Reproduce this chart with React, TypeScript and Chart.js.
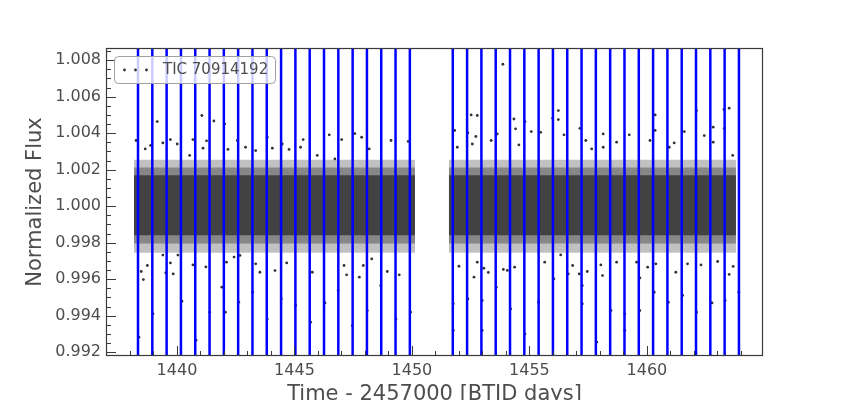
import React, { useEffect, useRef } from "react";
import { Chart, registerables } from "chart.js";

Chart.register(...registerables);

const TARGET_LABEL = "TIC 70914192";
const X_TITLE = "Time - 2457000 [BTJD days]";
const Y_TITLE = "Normalized Flux";

// Transit epochs marked by the vertical lines (BTJD)
const transitTimes = [
  1438.342, 1438.951, 1439.56, 1440.169, 1440.778, 1441.387, 1441.995, 1442.604,
  1443.213, 1443.822, 1444.431, 1445.04, 1445.649, 1446.258, 1446.867, 1447.476,
  1448.085, 1448.693, 1449.302, 1449.911,
  1451.738, 1452.347, 1452.956, 1453.565, 1454.174, 1454.783, 1455.391, 1456.0,
  1456.609, 1457.218, 1457.827, 1458.436, 1459.045, 1459.654, 1460.263, 1460.872,
  1461.481, 1462.089, 1462.698, 1463.307, 1463.916,
];

// Observation segments (orbits) and the dense flux distribution within them
const segmentStarts = [1438.17, 1451.57];
const segmentEnds = [1450.13, 1463.79];
const bandOuter = [0.99745, 1.00255];
const bandMid = [0.99795, 1.00212];
const bandCore = [0.99841, 1.0017];

// Individually visible flux points (outliers and in-transit points)
const pointTimes = [
  1439.16, 1441.06, 1441.57, 1438.26, 1439.4, 1439.72, 1440.01, 1440.68, 1441.26, 1442.03,
  1438.65, 1438.88, 1440.54, 1441.11, 1442.57, 1443.84, 1445.37, 1444.48, 1445.26, 1442.17,
  1442.92, 1443.35, 1444.06, 1444.77, 1445.97, 1446.48, 1447.57, 1447.86, 1447.01, 1449.11,
  1449.84, 1448.18, 1446.72,
  1438.48, 1438.57, 1438.74, 1439.72, 1439.84, 1440.68, 1441.23, 1441.91, 1439.4, 1440.04,
  1442.43, 1442.68, 1442.11, 1443.53, 1444.17, 1444.67, 1445.76, 1443.35, 1447.22, 1447.11,
  1447.76, 1448.95, 1449.46, 1448.29, 1447.93,
  1438.38, 1438.98, 1439.52, 1440.21, 1441.39, 1440.81, 1442.06, 1442.63, 1443.22, 1443.84,
  1444.44, 1445.05, 1445.69, 1446.3, 1446.86, 1447.46, 1448.1, 1448.67, 1449.32, 1449.94,
  1453.87, 1452.52, 1452.78, 1454.34, 1454.81, 1451.82, 1452.38, 1452.72, 1453.63, 1454.41,
  1455.08, 1455.48, 1451.93, 1452.57, 1453.37, 1454.55, 1456.23, 1456.23, 1455.99, 1457.15,
  1456.47, 1457.4, 1458.14, 1459.25, 1458.71, 1458.14, 1457.65, 1460.35, 1460.35, 1462.11,
  1463.28, 1463.5, 1462.82, 1461.59, 1462.44, 1463.29, 1460.13, 1460.95, 1461.16, 1462.82,
  1463.65,
  1452.0, 1452.64, 1453.06, 1453.25, 1453.89, 1454.06, 1454.37, 1452.78, 1455.65, 1456.33,
  1456.84, 1457.12, 1457.46, 1458.04, 1458.11, 1458.71, 1459.56, 1460.03, 1460.38, 1461.23,
  1461.73, 1462.3, 1463.01, 1463.5, 1463.67,
  1451.76, 1451.76, 1452.38, 1452.99, 1452.99, 1453.59, 1454.2, 1454.81, 1455.39, 1456.04,
  1456.65, 1457.25, 1457.25, 1457.86, 1458.47, 1459.06, 1459.06, 1459.7, 1459.7, 1460.31,
  1460.91, 1461.52, 1462.11, 1462.77, 1463.33, 1463.91,
];
const pointFlux = [
  1.00464, 1.00497, 1.00467, 1.0036, 1.00347, 1.00365, 1.00341, 1.00365, 1.00358, 1.00451,
  1.00314, 1.00333, 1.00278, 1.00318, 1.0036, 1.00378, 1.00365, 1.00341, 1.00323, 1.00311,
  1.00323, 1.00305, 1.00318, 1.00311, 1.00278, 1.00391, 1.00398, 1.00378, 1.00365, 1.0036,
  1.00355, 1.00314, 1.00259,
  0.99642, 0.99598, 0.99675, 0.99689, 0.99629, 0.99678, 0.99667, 0.99556, 0.99732, 0.99732,
  0.99721, 0.9973, 0.99693, 0.99638, 0.99647, 0.99689, 0.99638, 0.99684, 0.99624, 0.99675,
  0.99611, 0.99642, 0.99624, 0.99711, 0.99675,
  0.99282, 0.9941, 0.99635, 0.99479, 0.99419, 0.99266, 0.99419, 0.99474, 0.99529, 0.99382,
  0.99492, 0.99456, 0.99364, 0.9947, 0.99538, 0.99346, 0.99428, 0.99565, 0.99382, 0.99419,
  1.00778, 1.005, 1.00497, 1.00478, 1.00464, 1.00415, 1.00402, 1.00382, 1.00396, 1.00424,
  1.00409, 1.00405, 1.00323, 1.00341, 1.0036, 1.00336, 1.00524, 1.00475, 1.00482, 1.00427,
  1.00391, 1.0036, 1.00396, 1.00391, 1.00351, 1.00323, 1.00314, 1.005, 1.00415, 1.00524,
  1.0053, 1.00537, 1.00433, 1.00409, 1.00387, 1.00427, 1.0036, 1.00323, 1.00347, 1.00351,
  1.00278,
  0.99671, 0.99611, 0.9966, 0.99637, 0.99653, 0.99648, 0.99666, 0.99693, 0.99693, 0.99733,
  0.99675, 0.99629, 0.99642, 0.99678, 0.9962, 0.99693, 0.99693, 0.99666, 0.99684, 0.99638,
  0.99684, 0.99678, 0.99697, 0.99626, 0.9967,
  0.99465, 0.99319, 0.99492, 0.99483, 0.99319, 0.99556, 0.99437, 0.993, 0.99474, 0.99602,
  0.99629, 0.99565, 0.99465, 0.99255, 0.99428, 0.99319, 0.9941, 0.99607, 0.99428, 0.99529,
  0.99474, 0.99511, 0.99419, 0.9947, 0.99483, 0.99529,
];

const xTickValues = [1440, 1445, 1450, 1455, 1460];
const yTickValues = [0.992, 0.994, 0.996, 0.998, 1.0, 1.002, 1.004, 1.006, 1.008];

const X_MIN = 1436.98;
const X_MAX = 1464.94;
const Y_MIN = 0.99179;
const Y_MAX = 1.00867;

const TEXT_COLOR = "#4d4d4d";
const FRAME_COLOR = "#3a3a3a";
const FONT = "'DejaVu Sans', sans-serif";

const frameAndLegendPlugin = {
  id: "frameAndLegend",
  afterDraw(chart: any) {
    const { ctx, chartArea, scales } = chart;
    const { left, right, top, bottom } = chartArea;
    const xs = scales.x;
    const ys = scales.y;
    ctx.save();
    // inward ticks
    ctx.strokeStyle = FRAME_COLOR;
    ctx.lineWidth = 1;
    ctx.beginPath();
    for (let v = Math.ceil(X_MIN); v <= X_MAX; v++) {
      const px = Math.round(xs.getPixelForValue(v)) + 0.5;
      const len = xTickValues.includes(v) ? 10 : 5;
      ctx.moveTo(px, bottom);
      ctx.lineTo(px, bottom - len);
    }
    for (let k = Math.ceil(Y_MIN / 0.0005); k * 0.0005 <= Y_MAX + 1e-9; k++) {
      const v = k * 0.0005;
      const py = Math.round(ys.getPixelForValue(v)) + 0.5;
      const len = k % 4 === 0 ? 10 : 5;
      ctx.moveTo(left, py);
      ctx.lineTo(left + len, py);
    }
    ctx.stroke();
    // frame
    ctx.lineWidth = 1.2;
    ctx.strokeRect(left + 0.5, top + 0.5, right - left - 1, bottom - top - 1);

    // legend
    const lx = left + 8.5;
    const ly = top + 8.5;
    const lw = 161;
    const lh = 27;
    ctx.beginPath();
    if ((ctx as any).roundRect) (ctx as any).roundRect(lx, ly, lw, lh, 4);
    else ctx.rect(lx, ly, lw, lh);
    ctx.fillStyle = "rgba(255,255,255,0.8)";
    ctx.fill();
    ctx.strokeStyle = "#a0a0a0";
    ctx.lineWidth = 1;
    ctx.stroke();
    const cy = ly + lh / 2;
    ctx.fillStyle = "#333333";
    [10, 21, 32].forEach((dx) => {
      ctx.beginPath();
      ctx.arc(lx + dx, cy, 1.4, 0, Math.PI * 2);
      ctx.fill();
    });
    ctx.fillStyle = TEXT_COLOR;
    ctx.font = `15px ${FONT}`;
    ctx.textBaseline = "middle";
    ctx.textAlign = "left";
    ctx.fillText(chart.data.datasets[0].label, lx + 48.5, cy);
    ctx.restore();
  },
};

export default function App() {
  const canvasRef = useRef<HTMLCanvasElement | null>(null);

  useEffect(() => {
    document.body.style.margin = "0";
    const canvas = canvasRef.current;
    if (!canvas) return;

    const points = pointTimes.map((t, i) => ({ x: t, y: pointFlux[i] }));

    const bandDatasets: any[] = [];
    const bands = [
      { b: bandOuter, c: "rgba(51,51,51,0.30)" },
      { b: bandMid, c: "rgba(51,51,51,0.40)" },
      { b: bandCore, c: "rgba(51,51,51,0.82)" },
    ];
    bands.forEach(({ b, c }) => {
      segmentStarts.forEach((s, i) => {
        bandDatasets.push({
          type: "line",
          label: "band",
          data: [
            { x: s, y: b[1] },
            { x: segmentEnds[i], y: b[1] },
          ],
          showLine: true,
          borderColor: "rgba(0,0,0,0)",
          borderWidth: 0,
          pointRadius: 0,
          backgroundColor: c,
          fill: { value: b[0] },
          order: 2,
        });
      });
    });

    const lineDatasets = transitTimes.map((t) => ({
      type: "line",
      label: "transit",
      data: [
        { x: t, y: Y_MIN },
        { x: t, y: Y_MAX },
      ],
      showLine: true,
      borderColor: "#0000ff",
      borderWidth: 2.5,
      pointRadius: 0,
      fill: false,
      order: 0,
    }));

    const chart = new Chart(canvas, {
      type: "scatter",
      data: {
        datasets: [
          {
            type: "scatter",
            label: TARGET_LABEL,
            data: points,
            pointRadius: 1.4,
            pointBackgroundColor: "#333333",
            pointBorderWidth: 0,
            showLine: false,
            order: 1,
          },
          ...bandDatasets,
          ...lineDatasets,
        ] as any,
      },
      options: {
        responsive: false,
        animation: false,
        layout: { padding: { left: 0, top: 48, right: 85, bottom: 0 } },
        plugins: {
          legend: { display: false },
          tooltip: { enabled: false },
        },
        scales: {
          x: {
            type: "linear",
            min: X_MIN,
            max: X_MAX,
            afterFit: (s: any) => {
              s.height = 44;
            },
            afterBuildTicks: (s: any) => {
              s.ticks = xTickValues.map((v) => ({ value: v }));
            },
            grid: { display: false, drawTicks: false },
            border: { display: false },
            ticks: {
              padding: 5,
              color: TEXT_COLOR,
              font: { family: FONT, size: 16 },
              maxRotation: 0,
              autoSkip: false,
              callback: (v: any) => String(v),
            },
            title: {
              display: true,
              text: X_TITLE,
              color: TEXT_COLOR,
              font: { family: FONT, size: 21, lineHeight: 0.886 },
              padding: { top: 0, bottom: -4 },
            },
          },
          y: {
            type: "linear",
            min: Y_MIN,
            max: Y_MAX,
            afterFit: (s: any) => {
              s.width = 106;
            },
            afterBuildTicks: (s: any) => {
              s.ticks = yTickValues.map((v) => ({ value: v }));
            },
            grid: { display: false, drawTicks: false },
            border: { display: false },
            ticks: {
              padding: 5,
              color: TEXT_COLOR,
              font: { family: FONT, size: 16 },
              autoSkip: false,
              callback: (v: any) => Number(v).toFixed(3),
            },
            title: {
              display: true,
              text: Y_TITLE,
              color: TEXT_COLOR,
              font: { family: FONT, size: 21, lineHeight: 1.2 },
              padding: { top: 23, bottom: 0 },
            },
          },
        },
      } as any,
      plugins: [frameAndLegendPlugin],
    });

    return () => chart.destroy();
  }, []);

  return (
    <div style={{ width: 848, height: 400 }}>
      <canvas ref={canvasRef} width={848} height={400} />
    </div>
  );
}
